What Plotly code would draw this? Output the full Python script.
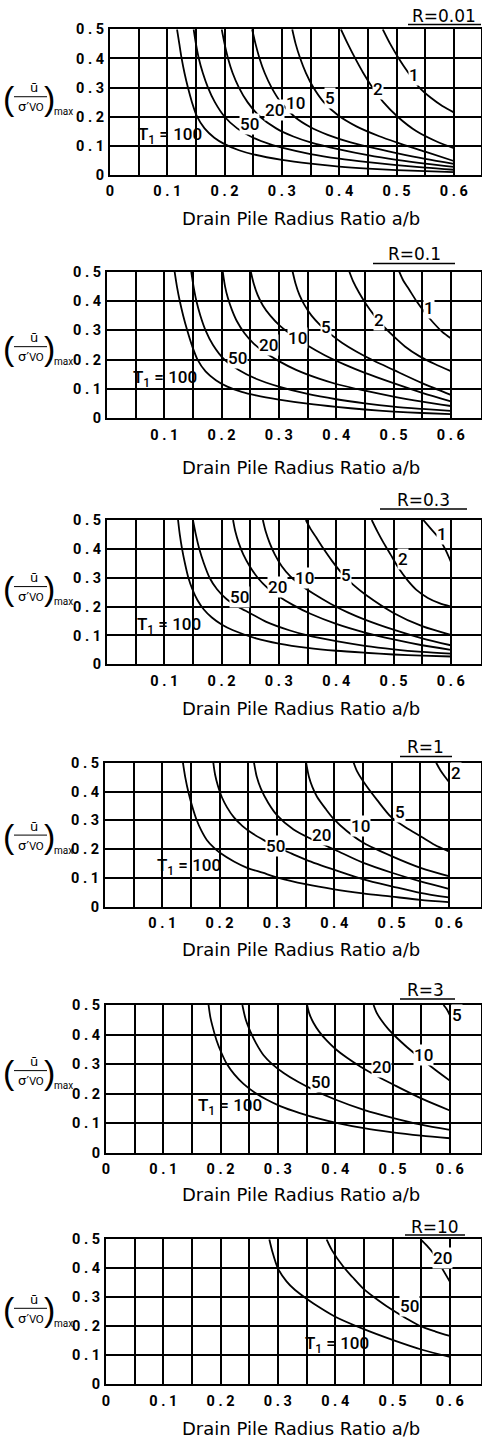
import plotly.graph_objects as go

W, H = 482, 1439

# ---------------- data ----------------
panel_r = ["R=0.01", "R=0.1", "R=0.3", "R=1", "R=3", "R=10"]
x_tick_vals = [0, 0.05, 0.1, 0.15, 0.2, 0.25, 0.3, 0.35, 0.4, 0.45, 0.5, 0.55, 0.6]
x_tick_text_0 = ["0", "", "0 . 1", "", "0 . 2", "", "0 . 3", "", "0 . 4", "", "0 . 5", "", "0 . 6"]
x_tick_text_n = ["", "", "0 . 1", "", "0 . 2", "", "0 . 3", "", "0 . 4", "", "0 . 5", "", "0 . 6"]
y_tick_vals = [0, 0.1, 0.2, 0.3, 0.4, 0.5]
y_tick_text = ["0", "0 . 1", "0 . 2", "0 . 3", "0 . 4", "0 . 5"]
x_title = "Drain Pile Radius Ratio a/b"

# R = 0.01
r001_t100_x = [0.117, 0.121, 0.125, 0.130, 0.136, 0.143, 0.152, 0.165, 0.182, 0.2, 0.225, 0.25, 0.3, 0.35, 0.4, 0.45, 0.5, 0.55, 0.6]
r001_t100_y = [0.5, 0.45, 0.4, 0.35, 0.3, 0.25, 0.2, 0.16, 0.128, 0.106, 0.085, 0.071, 0.052, 0.039, 0.029, 0.022, 0.017, 0.013, 0.010]
r001_t50_x = [0.146, 0.150, 0.155, 0.162, 0.171, 0.183, 0.2, 0.222, 0.25, 0.28, 0.3, 0.35, 0.4, 0.45, 0.5, 0.55, 0.6]
r001_t50_y = [0.5, 0.45, 0.4, 0.35, 0.3, 0.25, 0.2, 0.16, 0.128, 0.105, 0.094, 0.072, 0.056, 0.044, 0.034, 0.025, 0.018]
r001_t20_x = [0.195, 0.2, 0.206, 0.214, 0.225, 0.24, 0.262, 0.29, 0.32, 0.35, 0.4, 0.45, 0.5, 0.55, 0.6]
r001_t20_y = [0.5, 0.45, 0.4, 0.35, 0.3, 0.25, 0.2, 0.16, 0.132, 0.112, 0.088, 0.068, 0.052, 0.039, 0.028]
r001_t10_x = [0.248, 0.254, 0.261, 0.27, 0.282, 0.298, 0.322, 0.35, 0.38, 0.42, 0.45, 0.5, 0.55, 0.6]
r001_t10_y = [0.5, 0.45, 0.4, 0.35, 0.3, 0.25, 0.2, 0.164, 0.138, 0.112, 0.097, 0.075, 0.055, 0.038]
r001_t5_x = [0.318, 0.324, 0.332, 0.342, 0.355, 0.373, 0.398, 0.43, 0.47, 0.5, 0.55, 0.6]
r001_t5_y = [0.5, 0.45, 0.4, 0.35, 0.3, 0.25, 0.205, 0.167, 0.133, 0.112, 0.08, 0.048]
r001_t2_x = [0.403, 0.415, 0.428, 0.442, 0.458, 0.477, 0.502, 0.535, 0.57, 0.6]
r001_t2_y = [0.5, 0.45, 0.4, 0.35, 0.3, 0.25, 0.2, 0.15, 0.115, 0.092]
r001_t1_x = [0.476, 0.489, 0.504, 0.521, 0.54, 0.56, 0.58, 0.6]
r001_t1_y = [0.5, 0.45, 0.4, 0.35, 0.3, 0.265, 0.237, 0.215]
r001_lbl_text = ["T<sub>1</sub> = 100", "50", "20", "10", "5", "2", "1"]
r001_lbl_x = [0.105, 0.244, 0.287, 0.324, 0.384, 0.468, 0.531]
r001_lbl_y = [0.137, 0.175, 0.223, 0.246, 0.263, 0.294, 0.343]

# R = 0.1
r01_t100_x = [0.118, 0.122, 0.127, 0.133, 0.14, 0.148, 0.158, 0.172, 0.19, 0.21, 0.235, 0.26, 0.3, 0.35, 0.4, 0.45, 0.5, 0.55, 0.6]
r01_t100_y = [0.5, 0.45, 0.4, 0.35, 0.3, 0.25, 0.2, 0.16, 0.13, 0.108, 0.09, 0.078, 0.064, 0.05, 0.039, 0.03, 0.023, 0.018, 0.014]
r01_t50_x = [0.147, 0.151, 0.156, 0.163, 0.172, 0.185, 0.205, 0.23, 0.26, 0.3, 0.35, 0.4, 0.45, 0.5, 0.55, 0.6]
r01_t50_y = [0.5, 0.45, 0.4, 0.35, 0.3, 0.25, 0.2, 0.165, 0.135, 0.108, 0.083, 0.065, 0.051, 0.04, 0.032, 0.025]
r01_t20_x = [0.202, 0.206, 0.211, 0.218, 0.227, 0.24, 0.256, 0.275, 0.3, 0.33, 0.37, 0.4, 0.45, 0.5, 0.55, 0.6]
r01_t20_y = [0.5, 0.45, 0.41, 0.37, 0.33, 0.29, 0.255, 0.225, 0.195, 0.165, 0.135, 0.117, 0.094, 0.074, 0.057, 0.042]
r01_t10_x = [0.251, 0.256, 0.263, 0.272, 0.285, 0.302, 0.325, 0.35, 0.38, 0.415, 0.45, 0.5, 0.55, 0.6]
r01_t10_y = [0.5, 0.46, 0.42, 0.385, 0.35, 0.315, 0.28, 0.248, 0.215, 0.183, 0.155, 0.12, 0.087, 0.058]
r01_t5_x = [0.324, 0.329, 0.336, 0.345, 0.357, 0.372, 0.39, 0.41, 0.435, 0.465, 0.5, 0.55, 0.6]
r01_t5_y = [0.5, 0.46, 0.42, 0.385, 0.35, 0.318, 0.287, 0.258, 0.228, 0.197, 0.165, 0.12, 0.08]
r01_t2_x = [0.423, 0.43, 0.44, 0.452, 0.466, 0.482, 0.5, 0.52, 0.545, 0.572, 0.6]
r01_t2_y = [0.5, 0.465, 0.428, 0.39, 0.352, 0.315, 0.28, 0.245, 0.212, 0.185, 0.161]
r01_t1_x = [0.51, 0.517, 0.527, 0.54, 0.555, 0.57, 0.585, 0.6]
r01_t1_y = [0.5, 0.47, 0.44, 0.4, 0.36, 0.325, 0.295, 0.273]
r01_lbl_text = ["T<sub>1</sub> = 100", "50", "20", "10", "5", "2", "1"]
r01_lbl_x = [0.102, 0.228, 0.282, 0.333, 0.382, 0.475, 0.562]
r01_lbl_y = [0.136, 0.205, 0.25, 0.273, 0.31, 0.335, 0.375]

# R = 0.3
r03_t100_x = [0.124, 0.127, 0.131, 0.136, 0.142, 0.149, 0.158, 0.169, 0.183, 0.2, 0.22, 0.26, 0.3, 0.35, 0.4, 0.45, 0.5, 0.55, 0.6]
r03_t100_y = [0.5, 0.45, 0.4, 0.35, 0.3, 0.26, 0.222, 0.19, 0.162, 0.138, 0.118, 0.09, 0.072, 0.057, 0.047, 0.04, 0.034, 0.03, 0.027]
r03_t50_x = [0.15, 0.155, 0.161, 0.169, 0.179, 0.192, 0.208, 0.23, 0.249, 0.278, 0.318, 0.35, 0.4, 0.45, 0.5, 0.55, 0.6]
r03_t50_y = [0.5, 0.45, 0.4, 0.35, 0.3, 0.26, 0.227, 0.198, 0.178, 0.147, 0.118, 0.1, 0.08, 0.064, 0.052, 0.043, 0.037]
r03_t20_x = [0.22, 0.224, 0.23, 0.238, 0.249, 0.263, 0.28, 0.3, 0.325, 0.355, 0.4, 0.45, 0.5, 0.55, 0.6]
r03_t20_y = [0.5, 0.46, 0.42, 0.38, 0.34, 0.3, 0.265, 0.235, 0.205, 0.175, 0.14, 0.11, 0.086, 0.066, 0.05]
r03_t10_x = [0.272, 0.277, 0.284, 0.293, 0.305, 0.32, 0.338, 0.36, 0.39, 0.42, 0.45, 0.5, 0.55, 0.6]
r03_t10_y = [0.5, 0.46, 0.42, 0.38, 0.34, 0.305, 0.275, 0.245, 0.21, 0.18, 0.155, 0.12, 0.09, 0.066]
r03_t5_x = [0.347, 0.355, 0.365, 0.378, 0.392, 0.41, 0.43, 0.452, 0.5, 0.55, 0.6]
r03_t5_y = [0.5, 0.47, 0.44, 0.4, 0.36, 0.315, 0.275, 0.24, 0.178, 0.132, 0.102]
r03_t2_x = [0.462, 0.472, 0.483, 0.495, 0.51, 0.525, 0.54, 0.56, 0.58, 0.6]
r03_t2_y = [0.5, 0.46, 0.42, 0.38, 0.33, 0.29, 0.258, 0.23, 0.212, 0.2]
r03_t1_x = [0.552, 0.565, 0.578, 0.59, 0.6]
r03_t1_y = [0.5, 0.47, 0.44, 0.4, 0.356]
r03_lbl_text = ["T<sub>1</sub> = 100", "50", "20", "10", "5", "2", "1"]
r03_lbl_x = [0.109, 0.231, 0.298, 0.344, 0.417, 0.516, 0.584]
r03_lbl_y = [0.136, 0.234, 0.267, 0.298, 0.309, 0.364, 0.451]

# R = 1
r1_t100_x = [0.136, 0.14, 0.146, 0.152, 0.16, 0.168, 0.178, 0.19, 0.2, 0.225, 0.248, 0.275, 0.303, 0.35, 0.4, 0.45, 0.5, 0.55, 0.6]
r1_t100_y = [0.5, 0.45, 0.394, 0.35, 0.301, 0.265, 0.231, 0.205, 0.188, 0.157, 0.135, 0.118, 0.1, 0.078, 0.06, 0.046, 0.035, 0.024, 0.016]
r1_t50_x = [0.189, 0.192, 0.197, 0.204, 0.213, 0.225, 0.24, 0.259, 0.28, 0.297, 0.325, 0.352, 0.402, 0.451, 0.502, 0.55, 0.6]
r1_t50_y = [0.5, 0.46, 0.42, 0.38, 0.345, 0.31, 0.28, 0.252, 0.228, 0.21, 0.185, 0.162, 0.127, 0.095, 0.07, 0.048, 0.032]
r1_t20_x = [0.26, 0.265, 0.272, 0.285, 0.3, 0.329, 0.36, 0.402, 0.451, 0.502, 0.552, 0.6]
r1_t20_y = [0.5, 0.45, 0.41, 0.36, 0.318, 0.268, 0.235, 0.197, 0.152, 0.117, 0.087, 0.062]
r1_t10_x = [0.351, 0.356, 0.362, 0.37, 0.385, 0.399, 0.422, 0.451, 0.502, 0.552, 0.6]
r1_t10_y = [0.5, 0.45, 0.415, 0.382, 0.34, 0.305, 0.263, 0.222, 0.174, 0.134, 0.106]
r1_t5_x = [0.434, 0.44, 0.457, 0.475, 0.5, 0.525, 0.552, 0.575, 0.6]
r1_t5_y = [0.5, 0.47, 0.417, 0.37, 0.31, 0.275, 0.243, 0.215, 0.192]
r1_t2_x = [0.578, 0.585, 0.592, 0.6]
r1_t2_y = [0.5, 0.475, 0.455, 0.434]
r1_lbl_text = ["T<sub>1</sub> = 100", "50", "20", "10", "5", "2"]
r1_lbl_x = [0.147, 0.297, 0.377, 0.446, 0.515, 0.612]
r1_lbl_y = [0.139, 0.211, 0.249, 0.28, 0.33, 0.463]

# R = 3
r3_t100_x = [0.179, 0.182, 0.187, 0.193, 0.201, 0.211, 0.224, 0.24, 0.26, 0.28, 0.305, 0.337, 0.37, 0.4, 0.45, 0.5, 0.55, 0.6]
r3_t100_y = [0.5, 0.46, 0.42, 0.38, 0.34, 0.3, 0.265, 0.233, 0.203, 0.18, 0.157, 0.135, 0.116, 0.102, 0.083, 0.069, 0.058, 0.049]
r3_t50_x = [0.238, 0.244, 0.252, 0.262, 0.275, 0.29, 0.31, 0.335, 0.365, 0.4, 0.45, 0.5, 0.55, 0.6]
r3_t50_y = [0.5, 0.45, 0.41, 0.37, 0.33, 0.3, 0.27, 0.24, 0.21, 0.18, 0.145, 0.118, 0.095, 0.077]
r3_t20_x = [0.351, 0.355, 0.362, 0.372, 0.385, 0.4, 0.42, 0.445, 0.475, 0.502, 0.551, 0.6]
r3_t20_y = [0.5, 0.47, 0.44, 0.41, 0.38, 0.352, 0.322, 0.29, 0.257, 0.23, 0.183, 0.143]
r3_t10_x = [0.467, 0.472, 0.48, 0.492, 0.507, 0.525, 0.55, 0.575, 0.6]
r3_t10_y = [0.5, 0.475, 0.45, 0.42, 0.39, 0.358, 0.318, 0.28, 0.244]
r3_t5_x = [0.589, 0.595, 0.6]
r3_t5_y = [0.5, 0.485, 0.466]
r3_lbl_text = ["T<sub>1</sub> = 100", "50", "20", "10", "5"]
r3_lbl_x = [0.216, 0.374, 0.481, 0.554, 0.612]
r3_lbl_y = [0.156, 0.24, 0.289, 0.331, 0.466]

# R = 10
r10_t100_x = [0.285, 0.29, 0.3, 0.315, 0.33, 0.35, 0.375, 0.4, 0.45, 0.5, 0.55, 0.6]
r10_t100_y = [0.5, 0.46, 0.4, 0.355, 0.325, 0.295, 0.262, 0.233, 0.19, 0.153, 0.12, 0.095]
r10_t50_x = [0.385, 0.395, 0.414, 0.43, 0.449, 0.475, 0.5, 0.525, 0.549, 0.575, 0.6]
r10_t50_y = [0.5, 0.46, 0.406, 0.37, 0.33, 0.29, 0.256, 0.226, 0.2, 0.182, 0.167]
r10_t20_x = [0.549, 0.56, 0.571, 0.585, 0.6]
r10_t20_y = [0.5, 0.478, 0.452, 0.405, 0.354]
r10_lbl_text = ["T<sub>1</sub> = 100", "50", "20"]
r10_lbl_x = [0.403, 0.529, 0.588]
r10_lbl_y = [0.136, 0.27, 0.434]

panels = [
    dict(r=panel_r[0], x0=True,
         curves=[(r001_t100_x, r001_t100_y), (r001_t50_x, r001_t50_y), (r001_t20_x, r001_t20_y),
                 (r001_t10_x, r001_t10_y), (r001_t5_x, r001_t5_y), (r001_t2_x, r001_t2_y), (r001_t1_x, r001_t1_y)],
         lbl=(r001_lbl_text, r001_lbl_x, r001_lbl_y)),
    dict(r=panel_r[1], x0=False,
         curves=[(r01_t100_x, r01_t100_y), (r01_t50_x, r01_t50_y), (r01_t20_x, r01_t20_y),
                 (r01_t10_x, r01_t10_y), (r01_t5_x, r01_t5_y), (r01_t2_x, r01_t2_y), (r01_t1_x, r01_t1_y)],
         lbl=(r01_lbl_text, r01_lbl_x, r01_lbl_y)),
    dict(r=panel_r[2], x0=False,
         curves=[(r03_t100_x, r03_t100_y), (r03_t50_x, r03_t50_y), (r03_t20_x, r03_t20_y),
                 (r03_t10_x, r03_t10_y), (r03_t5_x, r03_t5_y), (r03_t2_x, r03_t2_y), (r03_t1_x, r03_t1_y)],
         lbl=(r03_lbl_text, r03_lbl_x, r03_lbl_y)),
    dict(r=panel_r[3], x0=False,
         curves=[(r1_t100_x, r1_t100_y), (r1_t50_x, r1_t50_y), (r1_t20_x, r1_t20_y),
                 (r1_t10_x, r1_t10_y), (r1_t5_x, r1_t5_y), (r1_t2_x, r1_t2_y)],
         lbl=(r1_lbl_text, r1_lbl_x, r1_lbl_y)),
    dict(r=panel_r[4], x0=True,
         curves=[(r3_t100_x, r3_t100_y), (r3_t50_x, r3_t50_y), (r3_t20_x, r3_t20_y),
                 (r3_t10_x, r3_t10_y), (r3_t5_x, r3_t5_y)],
         lbl=(r3_lbl_text, r3_lbl_x, r3_lbl_y)),
    dict(r=panel_r[5], x0=True,
         curves=[(r10_t100_x, r10_t100_y), (r10_t50_x, r10_t50_y), (r10_t20_x, r10_t20_y)],
         lbl=(r10_lbl_text, r10_lbl_x, r10_lbl_y)),
]

# ---------------- geometry / style (pixels) ----------------
LEFT_PX = [110, 107, 107, 105, 106, 106]
RIGHT_PX = 481
TOP_PX = [29.3, 271.7, 520, 762.7, 1005, 1239.3]
BOT_PX = [175, 418.3, 664.3, 906.7, 1152.7, 1384.3]
PX_PER_UNIT = 573.0
FRAC_OFF = [-20, -13, -20, -14, -23, -18]
R_TEXT_POS = [(444, 16), (414, 254), (423, 500), (425, 747), (425, 990), (435, 1227)]
R_LINE = [(408, 481, 24.5), (373, 455, 263.5), (380, 467, 509), (400, 452, 756.5), (400, 455, 999), (405, 465, 1235)]
XT_OFF = [43, 49, 44, 43, 42, 44]

TICK_FONT = dict(family="Roboto, DejaVu Sans Condensed, sans-serif", size=14.5, color="black", weight="bold")
LBL_FONT = dict(family="Roboto, DejaVu Sans Condensed, sans-serif", size=17, color="black", weight=500)
TXT_FONT = dict(family="DejaVu Sans, sans-serif", size=18, color="black")


def px(x):
    return x / W


def py(y):
    return 1 - y / H


fig = go.Figure()
annotations = []
shapes = []

for i, p in enumerate(panels):
    sfx = "" if i == 0 else str(i + 1)
    xa, ya = "x" + sfx, "y" + sfx
    for cx, cy in p["curves"]:
        fig.add_trace(go.Scatter(x=cx, y=cy, mode="lines", xaxis=xa, yaxis=ya,
                                 line=dict(color="black", width=1.8, shape="spline", smoothing=0.8),
                                 showlegend=False, hoverinfo="skip"))
    left = LEFT_PX[i]
    xmax = (RIGHT_PX - left) / PX_PER_UNIT
    axis_common = dict(showgrid=True, gridcolor="black", gridwidth=2, showline=True,
                       linecolor="black", linewidth=2, mirror=True, zeroline=False,
                       ticks="", tickfont=TICK_FONT, automargin=False, fixedrange=True)
    fig.layout["xaxis" + sfx] = dict(axis_common, domain=[px(left), px(RIGHT_PX)], range=[0, xmax],
                                      anchor=ya, tickmode="array", tickvals=x_tick_vals,
                                      ticktext=x_tick_text_0 if p["x0"] else x_tick_text_n,
                                      ticklabelstandoff=2)
    fig.layout["yaxis" + sfx] = dict(axis_common, domain=[py(BOT_PX[i]), py(TOP_PX[i])], range=[0, 0.5],
                                      anchor=xa, tickmode="array", tickvals=y_tick_vals,
                                      ticktext=y_tick_text, ticklabelstandoff=1)
    # curve labels
    texts, lx, ly = p["lbl"]
    for t, x, y in zip(texts, lx, ly):
        annotations.append(dict(x=x, y=y, xref=xa, yref=ya, text=t, showarrow=False,
                                font=LBL_FONT, bgcolor="white" if t[0] != "T" else "rgba(0,0,0,0)",
                                borderpad=0))
    # R label with underline
    rx, ry = R_TEXT_POS[i]
    annotations.append(dict(x=px(rx), y=py(ry), xref="paper", yref="paper", text=p["r"],
                            showarrow=False, font=dict(TXT_FONT, size=17),
                            xanchor="center", yanchor="middle"))
    l0, l1, lyy = R_LINE[i]
    shapes.append(dict(type="line", xref="paper", yref="paper", x0=px(l0), x1=px(l1), y0=py(lyy), y1=py(lyy),
                       line=dict(color="black", width=1.3)))
    # x title
    annotations.append(dict(x=px(301), y=py(BOT_PX[i] + XT_OFF[i]), xref="paper", yref="paper", text=x_title,
                            showarrow=False, font=TXT_FONT, xanchor="center", yanchor="middle"))
    # y title: (u / sigma'vo)max
    y02 = BOT_PX[i] - 0.4 * (BOT_PX[i] - TOP_PX[i])
    yb = y02 + FRAC_OFF[i]
    par_font = dict(family="Liberation Sans, Arial, sans-serif", size=34, color="black")
    annotations.append(dict(x=px(9), y=py(yb + 1), xref="paper", yref="paper", text="(", showarrow=False,
                            font=par_font, xanchor="center", yanchor="middle"))
    annotations.append(dict(x=px(49.5), y=py(yb + 1), xref="paper", yref="paper", text=")", showarrow=False,
                            font=par_font, xanchor="center", yanchor="middle"))
    annotations.append(dict(x=px(34), y=py(yb - 9), xref="paper", yref="paper", text="ū", showarrow=False,
                            font=dict(family="DejaVu Sans, sans-serif", size=13, color="black"),
                            xanchor="center", yanchor="middle"))
    annotations.append(dict(x=px(31), y=py(yb + 10), xref="paper", yref="paper",
                            text="σ′<span style='font-size:10px'>VO</span>", showarrow=False,
                            font=dict(family="DejaVu Sans, sans-serif", size=13, color="black"),
                            xanchor="center", yanchor="middle"))
    annotations.append(dict(x=px(63.5), y=py(yb + 15), xref="paper", yref="paper", text="max", showarrow=False,
                            font=dict(family="Roboto, sans-serif", size=10, color="black"),
                            xanchor="center", yanchor="middle"))
    shapes.append(dict(type="line", xref="paper", yref="paper", x0=px(14), x1=px(47), y0=py(yb), y1=py(yb),
                       line=dict(color="black", width=1)))

fig.update_layout(width=W, height=H, margin=dict(l=0, r=0, t=0, b=0), template="none",
                  paper_bgcolor="white", plot_bgcolor="white",
                  annotations=annotations, shapes=shapes, showlegend=False)

fig.write_html("out.html", config={"displayModeBar": False, "staticPlot": True},
               post_script="document.body.style.margin='0px';document.body.style.padding='0px';")
